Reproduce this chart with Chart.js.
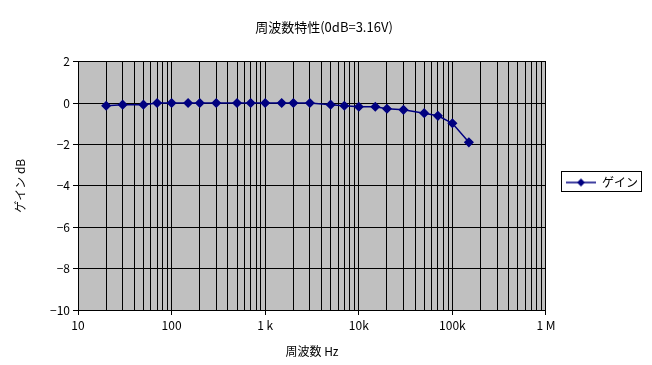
<!DOCTYPE html>
<html>
<head>
<meta charset="utf-8">
<script src="https://cdn.jsdelivr.net/npm/chart.js@4"></script>
<style>
  html, body { margin: 0; padding: 0; background: #fff; }
  #wrap { width: 652px; height: 365px; }
</style>
</head>
<body>
<div id="wrap"><canvas id="chart"></canvas></div>
<script>
// 周波数特性のデータ
const freqs = [20, 30, 50, 70, 100, 150, 200, 300, 500, 700, 1000, 1500, 2000, 3000,
               5000, 7000, 10000, 15000, 20000, 30000, 50000, 70000, 100000, 150000];
const gainDb = [-0.13, -0.08, -0.08, 0, 0, 0, 0, 0, 0, 0, 0, 0, 0, 0,
                -0.08, -0.13, -0.18, -0.18, -0.28, -0.33, -0.49, -0.62, -0.98, -1.9];
const decades = [10, 100, 1000, 10000, 100000, 1000000];
const decadeLabels = ['10', '100', '1 k', '10k', '100k', '1 M'];
const yTicks = [2, 0, -2, -4, -6, -8, -10];

const FONT = "'Noto Sans CJK JP', 'Liberation Sans', sans-serif";
const NAVY = '#000080';

// 凡例用のマーカー（線＋ひし形）
const legendIcon = document.createElement('canvas');
legendIcon.width = 30;
legendIcon.height = 10;
(() => {
    const c = legendIcon.getContext('2d');
    c.strokeStyle = NAVY;
    c.lineWidth = 1.5;
    c.beginPath(); c.moveTo(0, 5); c.lineTo(30, 5); c.stroke();
    c.fillStyle = NAVY;
    c.beginPath(); c.moveTo(15, 1); c.lineTo(19, 5); c.lineTo(15, 9); c.lineTo(11, 5); c.closePath(); c.fill();
})();

const plotBg = {
    id: 'plotBg',
    beforeDraw(chart) {
        const { ctx, chartArea: a } = chart;
        ctx.save();
        ctx.fillStyle = '#fff';
        ctx.fillRect(0, 0, chart.width, chart.height);
        ctx.fillStyle = '#C0C0C0';
        ctx.fillRect(a.left, a.top, a.right - a.left, a.bottom - a.top);
        ctx.restore();
    }
};

// 凡例の枠線
const legendBorder = {
    id: 'legendBorder',
    afterDraw(chart) {
        const hb = chart.legend.legendHitBoxes[0];
        if (!hb) return;
        const ctx = chart.ctx;
        ctx.save();
        ctx.strokeStyle = '#000';
        ctx.lineWidth = 1;
        ctx.strokeRect(Math.round(hb.left) - 4.5, Math.round(hb.top) - 5.5,
                       Math.round(hb.width) + 8, Math.round(hb.height) + 8);
        ctx.restore();
    }
};

new Chart(document.getElementById('chart'), {
    type: 'line',
    data: {
        datasets: [{
            label: 'ゲイン',
            data: freqs.map((f, i) => ({ x: f, y: gainDb[i] })),
            borderColor: NAVY,
            backgroundColor: NAVY,
            borderWidth: 1.5,
            pointStyle: 'rectRot',
            pointRadius: 4,
            pointBackgroundColor: NAVY,
            pointBorderColor: NAVY,
            tension: 0
        }]
    },
    options: {
        responsive: true,
        maintainAspectRatio: false,
        animation: false,
        layout: { padding: { left: 0, right: 4, top: 0, bottom: 0 } },
        scales: {
            x: {
                type: 'logarithmic',
                min: 10,
                max: 1000000,
                afterBuildTicks: scale => {
                    const t = [];
                    for (let d = 10; d < 1000000; d *= 10) {
                        for (let m = 1; m < 10; m++) t.push({ value: m * d });
                    }
                    t.push({ value: 1000000 });
                    scale.ticks = t;
                },
                afterFit: scale => { scale.height = 55; },
                ticks: {
                    autoSkip: false,
                    maxRotation: 0,
                    padding: 3,
                    color: '#000',
                    font: { family: FONT, size: 12 },
                    callback: v => {
                        const i = decades.indexOf(v);
                        return i >= 0 ? decadeLabels[i] : '';
                    }
                },
                grid: {
                    color: '#000',
                    lineWidth: 1,
                    tickLength: 5,
                    tickColor: ctx => (ctx.tick && decades.includes(ctx.tick.value)) ? '#000' : 'rgba(0,0,0,0)'
                },
                border: { color: '#000' },
                title: {
                    display: true,
                    text: '周波数 Hz',
                    color: '#000',
                    font: { family: FONT, size: 12 },
                    padding: { top: 0, bottom: 6 }
                }
            },
            y: {
                min: -10,
                max: 2,
                afterBuildTicks: scale => { scale.ticks = yTicks.map(v => ({ value: v })); },
                afterFit: scale => { scale.width = 78; },
                ticks: {
                    padding: 3,
                    color: '#000',
                    font: { family: FONT, size: 12 },
                    callback: v => String(v).replace('-', '−')
                },
                grid: { color: '#000', lineWidth: 1, tickLength: 5, tickColor: '#000' },
                border: { color: '#000' },
                title: {
                    display: true,
                    text: 'ゲイン dB',
                    color: '#000',
                    font: { family: FONT, size: 12 },
                    padding: { top: 13, bottom: 0 }
                }
            }
        },
        plugins: {
            title: {
                display: true,
                text: '周波数特性(0dB=3.16V)',
                color: '#000',
                font: { family: FONT, size: 13, weight: 'normal' },
                padding: { top: 19, bottom: 27 }
            },
            legend: {
                position: 'right',
                align: 'center',
                labels: {
                    color: '#000',
                    font: { family: FONT, size: 12 },
                    usePointStyle: true,
                    pointStyleWidth: 30,
                    padding: 20,
                    generateLabels: chart => [{
                        text: 'ゲイン',
                        pointStyle: legendIcon,
                        fillStyle: NAVY,
                        strokeStyle: NAVY,
                        lineWidth: 0,
                        datasetIndex: 0,
                        fontColor: '#000'
                    }]
                }
            },
            tooltip: { enabled: false }
        }
    },
    plugins: [plotBg, legendBorder]
});
</script>
</body>
</html>
